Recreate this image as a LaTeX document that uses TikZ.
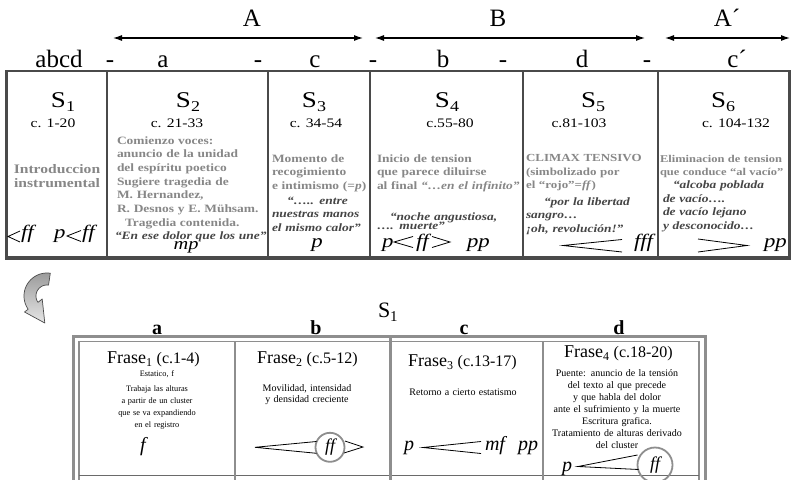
\documentclass[tikz,border=0pt]{standalone}
\usepackage{fontspec}
\setmainfont{Liberation Serif}
\newfontfamily\widefont[FakeStretch=1.2]{Liberation Serif}
\usetikzlibrary{arrows.meta}

\definecolor{rulegray}{HTML}{4A4A4A}
\definecolor{framegray}{HTML}{8E8E8E}
\definecolor{notegray}{HTML}{878787}
\definecolor{quotegray}{HTML}{454545}
\definecolor{bendtop}{HTML}{9C9C9C}
\definecolor{bendbottom}{HTML}{E6E6E6}

\newcommand\fsz[2]{\fontsize{#1}{#2}\selectfont}
% lowered index: drop, size, text
\newcommand\lowidx[3]{\raisebox{-#1pt}{\fsz{#2}{#2}#3}}

\begin{document}
\begin{tikzpicture}[x=1pt,y=-1pt,
  every node/.style={inner sep=0pt,outer sep=0pt},
  headlbl/.style={font=\fsz{25}{25},anchor=base},
  seclbl/.style={font=\widefont\fsz{22.5}{22.5},anchor=base},
  barlbl/.style={font=\widefont\fsz{13}{13},anchor=base},
  note/.style={font=\widefont\bfseries\fsz{11.2}{13.7},text=notegray,
               text width=200pt,align=left,anchor=base west},
  quote/.style={note,text=quotegray,font=\widefont\bfseries\itshape\fsz{11.2}{13.7}},
  dyn/.style={font=\widefont\itshape\fsz{19}{19},anchor=base west},
  hairpin/.style={draw=black,line width=0.8pt},
  spanarrow/.style={line width=1.1pt,{Latex[length=9pt,width=6pt]}-{Latex[length=9pt,width=6pt]}},
  tablerule/.style={draw=rulegray,line width=2.2pt},
  framerule/.style={draw=framegray,line width=1.6pt},
  colhd/.style={font=\bfseries\fsz{20}{20},anchor=base},
  frasettl/.style={font=\fsz{18}{18},anchor=base},
  frasebody/.style={font=\fsz{10}{11.9},text width=150pt,align=center,anchor=base},
  ldyn/.style={font=\itshape\fsz{20}{20},anchor=base west},
  ring/.style={circle,draw=framegray,line width=1.8pt,font=\itshape\fsz{18}{18}},
]
\useasboundingbox (0,0) rectangle (791,479);
\fill[white] (0,0) rectangle (791,479);
\clip (0,0) rectangle (791,479);

% ---------- large-scale form: A  B  A'
\node[headlbl] (lblA)  at (252,26) {A};
\node[headlbl] (lblB)  at (498,26) {B};
\node[headlbl] (lblAp) at (727,26) {A´};
\coordinate (aL) at (113,38); \coordinate (aR) at (363,38);
\coordinate (bL) at (375,38); \coordinate (bR) at (645,38);
\coordinate (cL) at (665,38); \coordinate (cR) at (790,38);
\draw[spanarrow] (aL) -- (aR);
\draw[spanarrow] (bL) -- (bR);
\draw[spanarrow] (cL) -- (cR);

% ---------- sections row
\node[headlbl] (secall) at (59,67)  {abcd};
\node[headlbl] (dash1)  at (110,67) {-};
\node[headlbl] (seca)   at (163,67) {a};
\node[headlbl] (dash2)  at (258,67) {-};
\node[headlbl] (secc)   at (315,67) {c};
\node[headlbl] (dash3)  at (373,67) {-};
\node[headlbl] (secb)   at (443,67) {b};
\node[headlbl] (dash4)  at (503,67) {-};
\node[headlbl] (secd)   at (582,67) {d};
\node[headlbl] (dash5)  at (647,67) {-};
\node[headlbl] (seccp)  at (737,67) {c´};

% ---------- upper table frame
\draw[rulegray,line width=2.4pt] (6.5,257.5) -- (6.5,71) -- (789.5,71) -- (789.5,257.5);
\draw[rulegray,line width=4pt] (5.3,257.5) -- (790.7,257.5);
\foreach \xx in {107,268,370,523,658}
  \draw[tablerule,line width=2pt] (\xx,71) -- (\xx,257.5);

% ---------- section titles and bar numbers
\node[seclbl] (s1) at (63,107)  {S\lowidx{4}{15}{1}};
\node[seclbl] (s2) at (188,107) {S\lowidx{4}{15}{2}};
\node[seclbl] (s3) at (314,107) {S\lowidx{4}{15}{3}};
\node[seclbl] (s4) at (447,107) {S\lowidx{4}{15}{4}};
\node[seclbl] (s5) at (593,107) {S\lowidx{4}{15}{5}};
\node[seclbl] (s6) at (723,107) {S\lowidx{4}{15}{6}};

\node[barlbl] (c1) at (53,127)  {c. 1-20};
\node[barlbl] (c2) at (177,127) {c. 21-33};
\node[barlbl] (c3) at (316,127) {c. 34-54};
\node[barlbl] (c4) at (450,127) {c.55-80};
\node[barlbl] (c5) at (579,127) {c.81-103};
\node[barlbl] (c6) at (736,127) {c. 104-132};

% ---------- S1
\node[note,font=\widefont\bfseries\fsz{13}{14},text width=95pt,align=center,anchor=base]
  (n1) at (57,173) {Introduccion\\instrumental};
\draw[hairpin] (20,231) -- (8,236.5) -- (20,242);
\node[dyn] (d1a) at (21,238) {ff};
\node[dyn] (d1b) at (54,238) {p};
\draw[hairpin] (81,230.5) -- (67,236) -- (81,241.5);
\node[dyn] (d1c) at (82,238) {ff};

% ---------- S2
\node[note] (n2) at (117,144) {Comienzo voces:\\ anuncio de la unidad\\ del espíritu poetico\\
  Sugiere tragedia de\\ M. Hernandez,\\ R. Desnos y E. Mühsam.\\ \hspace*{8pt}Tragedia contenida.};
\node[quote] (q2) at (115,239) {“En ese dolor que los une”};
\node[dyn,font=\widefont\itshape\fsz{17}{17},anchor=base] (d2) at (186,249) {mp};

% ---------- S3
\node[note] (n3) at (272,162) {Momento de\\ recogimiento\\ e intimismo (=\textit{p})};
\node[quote] (q3) at (272,204) {\hspace*{15pt}“….. entre\\ nuestras manos\\ el mismo calor”};
\node[dyn,anchor=base] (d3) at (317,247) {p};

% ---------- S4
\node[note] (n4) at (377,162) {Inicio de tension\\ que parece diluirse\\ al final \textit{“…en el infinito”}};
\node[quote] (q4) at (377,220) {\hspace*{13pt}“noche angustiosa,\\[-4.2pt] …. muerte”};
\node[dyn] (d4a) at (382,247) {p};
\draw[hairpin] (413,236.5) -- (394,242) -- (413,247.5);
\node[dyn] (d4b) at (416,247) {ff};
\draw[hairpin] (432,236.5) -- (450,242) -- (432,247.5);
\node[dyn] (d4c) at (467,247) {pp};

% ---------- S5
\node[note,font=\widefont\bfseries\fsz{10.8}{13.7}] (n5) at (526,161.5)
  {CLIMAX TENSIVO\\ (simbolizado por\\ el “rojo”=\textit{ff})};
\node[quote] (q5) at (526,205) {\hspace*{18pt}“por la libertad\\ sangro…\\ ¡oh, revolución!”};
\draw[hairpin] (622,239.5) -- (563,245.5) -- (622,252);
\node[dyn] (d5) at (634,247) {fff};

% ---------- S6
\node[note,font=\widefont\bfseries\fsz{10.4}{13.4}] (n6) at (660,162)
  {Eliminacion de tension\\ que conduce “al vacío”};
\node[quote] (q6) at (663,188.5) {\hspace*{10pt}“alcoba poblada\\ de vacío….\\ de vacío lejano\\ y desconocido…};
\draw[hairpin] (698,239) -- (747,245.5) -- (698,252);
\node[dyn] (d6) at (764,247) {pp};

% ---------- bent arrow leading to the detail of S1
\shadedraw[top color=bendtop,bottom color=bendbottom,draw=rulegray,line width=0.7pt,line join=round]
  (50.3,273.2)
  -- plot[domain=82:215,samples=40] ({47+23*cos(\x)},{296-23*sin(\x)})
  -- (24.5,312) -- (44.8,323) -- (42.2,299) -- (38,302.3)
  -- plot[domain=215:82,samples=40] ({47+11*cos(\x)},{296-11*sin(\x)})
  -- cycle;

% ---------- detail of S1
\node[font=\fsz{22}{22},anchor=base west] (s1big) at (378,317) {S\lowidx{4}{15}{1}};
\node[colhd] (ha) at (157,334) {a};
\node[colhd] (hb) at (316,334) {b};
\node[colhd] (hc) at (464,334) {c};
\node[colhd] (hd) at (619,334) {d};

\draw[framegray,line width=3pt] (73.5,484) -- (73.5,336) -- (705.5,336) -- (705.5,484);
\draw[framerule] (79,484) -- (79,341.5) -- (699,341.5) -- (699,484);
\draw[framerule,draw=framegray!75!black] (79,475.5) -- (699,475.5);
\draw[framerule] (235,341.5) -- (235,484);
\draw[framegray,line width=3pt] (390,336) -- (390,484);
\draw[framerule] (543,341.5) -- (543,484);

% Frase 1
\node[frasettl] (f1) at (153.5,363) {Frase\lowidx{3}{12}{1} {\fsz{16}{16}(c.1-4)}};
\node[frasebody,font=\fsz{8.3}{12}] (f1txt) at (157,376)
  {Estatico, f\\[3pt] Trabaja las alturas\\ a partir de un cluster\\ que se va expandiendo\\ en el registro};
\node[ldyn,anchor=base] (f1dyn) at (143,451) {f};

% Frase 2
\node[frasettl] (f2) at (307.5,363) {Frase\lowidx{3}{12}{2} {\fsz{16}{16}(c.5-12)}};
\node[frasebody] (f2txt) at (307,391) {Movilidad, intensidad\\ y densidad creciente};
\node[ring,minimum size=29pt] (f2ff) at (330,447.3) {ff};
\draw[hairpin] (316.5,441.5) -- (255,447.3) -- (316.5,453.3);
\draw[hairpin] (345,441) -- (363,447) -- (344,453);

% Frase 3
\node[frasettl] (f3) at (462.5,366.7) {Frase\lowidx{3}{12}{3} {\fsz{16}{16}(c.13-17)}};
\node[frasebody] (f3txt) at (463,395) {Retorno a cierto estatismo};
\node[ldyn] (f3p) at (404,450.5) {p};
\draw[hairpin] (481,441.5) -- (423,447.5) -- (481,453.5);
\node[ldyn] (f3mf) at (485,450.5) {mf};
\node[ldyn] (f3pp) at (518,450.5) {pp};

% Frase 4
\node[frasettl] (f4) at (618.5,357) {Frase\lowidx{3}{12}{4} {\fsz{16}{16}(c.18-20)}};
\node[frasebody] (f4txt) at (617,376.7) {Puente: anuncio de la tensión\\ del texto al que precede\\
  y que habla del dolor\\ ante el sufrimiento y la muerte\\ Escritura grafica.\\
  Tratamiento de alturas derivado\\ del cluster};
\node[ldyn] (f4p) at (562,471) {p};
\node[ring,minimum size=35pt] (f4ff) at (655,465) {ff};
\draw[hairpin] (637.5,455) -- (578,466.5) -- (638.5,469.5);
\end{tikzpicture}
\end{document}
